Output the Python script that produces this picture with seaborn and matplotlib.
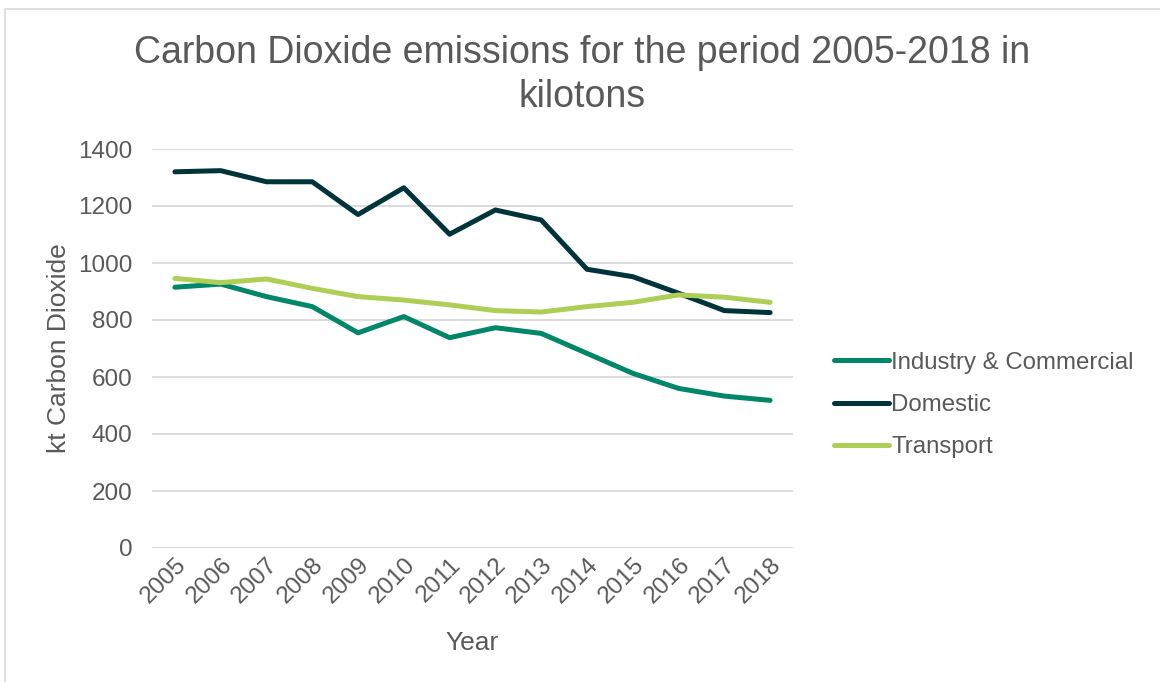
import matplotlib
matplotlib.use("Agg")
import matplotlib.pyplot as plt
import seaborn as sns
import pandas as pd
from matplotlib.lines import Line2D

years = ["2005", "2006", "2007", "2008", "2009", "2010", "2011",
         "2012", "2013", "2014", "2015", "2016", "2017", "2018"]
industry = [915, 926, 882, 847, 755, 812, 738, 773, 753, 683, 613, 560, 533, 518]
domestic = [1320, 1324, 1285, 1285, 1170, 1264, 1101, 1186, 1151, 978, 952, 894, 833, 826]
transport = [946, 931, 944, 911, 882, 870, 853, 833, 828, 847, 862, 888, 880, 862]
series_names = ["Industry & Commercial", "Domestic", "Transport"]
colors = ["#00876A", "#00343B", "#AECF56"]

df = pd.DataFrame({"Year": years * 3,
                   "Value": industry + domestic + transport,
                   "Series": [series_names[0]] * 14 + [series_names[1]] * 14 + [series_names[2]] * 14})

sns.set_theme(style="white")
plt.rcParams['font.family'] = ['Liberation Sans', 'DejaVu Sans']
text_col = "#595959"

fig = plt.figure(figsize=(11.6, 6.82), dpi=100)
W, H = 1160, 682
ax = fig.add_axes([152 / W, 1 - 548 / H, (793 - 152) / W, (548 - 149) / H])

sns.lineplot(data=df, x="Year", y="Value", hue="Series", palette=colors,
             hue_order=series_names, linewidth=3.6, ax=ax, legend=False,
             sort=False, solid_capstyle="round")

ax.set_xlim(-0.5, 13.5)
ax.set_ylim(0, 1400)
ax.set_yticks(range(0, 1401, 200))
ax.yaxis.grid(True, color="#D9D9D9", linewidth=1.3)
ax.set_axisbelow(True)
for s in ax.spines.values():
    s.set_visible(False)
ax.tick_params(axis="y", labelsize=17.5, colors=text_col, length=0, pad=14)
ax.tick_params(axis="x", labelsize=17.5, colors=text_col, length=0, pad=4)
plt.setp(ax.get_xticklabels(), rotation=45, ha="right", rotation_mode="anchor")
ax.set_xlabel("Year", fontsize=19, color=text_col, labelpad=17)
ax.set_ylabel("kt Carbon Dioxide", fontsize=19, color=text_col, labelpad=5)

fig.text(582 / W, 1 - 75 / H, "Carbon Dioxide emissions for the period 2005-2018 in\nkilotons",
         ha="center", va="center", fontsize=27, color=text_col, linespacing=1.3)

handles = [Line2D([0], [0], color=c, lw=3.6, solid_capstyle="round") for c in colors]
leg = fig.legend(handles, series_names, loc="center left",
                 bbox_to_anchor=(824 / W, 1 - 405 / H), frameon=False,
                 fontsize=17.3, handlelength=2.3, handletextpad=0.1,
                 labelspacing=0.85, borderaxespad=0)
for t in leg.get_texts():
    t.set_color(text_col)

border = plt.Rectangle((5 / W, -0.1), 1.2, 1 - 9 / H + 0.1, transform=fig.transFigure,
                       fill=False, edgecolor="#D9D9D9", linewidth=1.2)
fig.patches.append(border)

fig.savefig("out.png", dpi=100)
